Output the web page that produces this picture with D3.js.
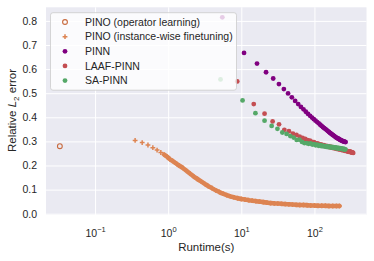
<!DOCTYPE html>
<html>
<head>
<title>Runtime vs error</title>
<style>
  body, html { margin: 0; padding: 0; background: #fff; }
  svg { display: block; font-family: "Liberation Sans", Arial, sans-serif; }
</style>
</head>
<body>
<svg id="svg" width="374" height="261"></svg>
<script src="https://d3js.org/d3.v7.min.js"></script>
<script>
// PINO (operator learning): a single run
const pinoOpTime = [0.033]
const pinoOpErr = [0.28]

// PINO (instance-wise finetuning)
const pinoFtTime = [0.353, 0.441, 0.529, 0.617, 0.705, 0.793, 0.881, 0.969, 1.057, 1.145, 1.233, 1.321, 1.41,
  1.58, 1.78, 2.0, 2.24, 2.51, 2.82, 3.16, 3.55, 3.98, 4.47, 5.01, 5.62, 6.31, 7.08, 7.94, 8.91, 10.0,
  11.2, 12.6, 14.1, 15.8, 17.8, 20.0, 22.4, 25.1, 28.2, 31.6, 35.5, 39.8, 44.7, 50.1, 56.2, 63.1, 70.8,
  79.4, 89.1, 100, 112, 126, 141, 158, 178, 200, 220]
const pinoFtErr = [0.304, 0.295, 0.285, 0.274, 0.264, 0.254, 0.245, 0.236, 0.226, 0.219, 0.212, 0.206, 0.200,
  0.190, 0.178, 0.166, 0.154, 0.144, 0.134, 0.124, 0.114, 0.106, 0.097, 0.090, 0.083, 0.077, 0.072, 0.068, 0.064, 0.061,
  0.059, 0.056, 0.054, 0.052, 0.050, 0.048, 0.046, 0.044, 0.043, 0.042, 0.041, 0.040, 0.039, 0.038, 0.037, 0.036, 0.036,
  0.035, 0.034, 0.034, 0.033, 0.033, 0.033, 0.032, 0.032, 0.032, 0.032]

// PINN
const pinnTime = [5.5, 10.9, 16.4, 21.8, 27.3, 32.7, 38.2, 43.6, 49.1, 54.5, 60.0, 65.4, 70.9, 76.3, 81.8,
  87.2, 92.7, 98.1, 103.6, 109.0, 114.5, 119.9, 125.4, 130.8, 136.3, 141.7, 147.2, 152.6, 158.1, 163.5,
  169.0, 174.4, 179.9, 185.3, 190.8, 196.2, 201.7, 207.1, 212.6, 218.0, 223.5, 228.9, 234.4, 239.8, 245.3,
  250.7, 256.2, 261.6, 267.1]
const pinnErr = [0.815, 0.667, 0.623, 0.587, 0.561, 0.538, 0.517, 0.499, 0.483, 0.468, 0.455, 0.443, 0.433, 0.423, 0.414,
  0.406, 0.399, 0.392, 0.386, 0.380, 0.375, 0.369, 0.364, 0.359, 0.355, 0.351, 0.347, 0.343, 0.339, 0.335,
  0.332, 0.329, 0.326, 0.323, 0.320, 0.317, 0.315, 0.313, 0.311, 0.309, 0.307, 0.305, 0.304, 0.302, 0.301,
  0.300, 0.299, 0.298, 0.297]

// LAAF-PINN
const laafTime = [8.8, 14.8, 20.8, 26.8, 32.8, 38.8, 44.8, 50.8, 56.8, 62.8, 68.8, 74.8, 80.8, 86.8, 92.8,
  98.8, 104.8, 110.8, 116.8, 122.8, 128.8, 134.8, 140.8, 146.8, 152.8, 158.8, 164.8, 170.8, 176.8, 182.8,
  188.8, 194.8, 200.8, 206.8, 212.8, 218.8, 224.8, 230.8, 236.8, 242.8, 248.8, 254.8, 260.8, 266.8, 272.8,
  278.8, 284.8, 290.8, 296.8, 302.8, 308.8, 314.8, 320.8, 326.8, 332.8, 338.8]
const laafErr = [0.549, 0.455, 0.415, 0.383, 0.371, 0.348, 0.342, 0.332, 0.327, 0.320,
  0.314, 0.310, 0.305, 0.303, 0.298, 0.297, 0.292, 0.292, 0.287, 0.288,
  0.284, 0.284, 0.280, 0.281, 0.277, 0.279, 0.275, 0.277, 0.273, 0.275,
  0.271, 0.273, 0.269, 0.271, 0.267, 0.269, 0.266, 0.267, 0.264, 0.265,
  0.263, 0.264, 0.261, 0.262, 0.260, 0.261, 0.258, 0.259, 0.257, 0.258,
  0.256, 0.256, 0.255, 0.254, 0.253, 0.252]

// SA-PINN
const saTime = [5.2, 10.4, 15.6, 20.8, 26.0, 31.2, 36.4, 41.6, 46.8, 52.0, 57.2, 62.4, 67.6, 72.8, 78.0,
  83.2, 88.4, 93.6, 98.8, 104.0, 109.2, 114.4, 119.6, 124.8, 130.0, 135.2, 140.4, 145.6, 150.8, 156.0,
  161.2, 166.4, 171.6, 176.8, 182.0, 187.2, 192.4, 197.6, 202.8, 208.0, 213.2, 218.4, 223.6, 228.8, 234.0,
  239.2, 244.4, 249.6, 254.8, 260.0, 265.2]
const saErr = [0.557, 0.470, 0.417, 0.386, 0.364, 0.352, 0.337, 0.331, 0.322, 0.316, 0.306, 0.307, 0.298, 0.293, 0.293,
  0.290, 0.292, 0.287, 0.289, 0.284, 0.286, 0.282, 0.284, 0.280, 0.282, 0.279, 0.280, 0.277, 0.279, 0.276,
  0.278, 0.275, 0.277, 0.274, 0.276, 0.273, 0.275, 0.272, 0.274, 0.271, 0.273, 0.270, 0.272, 0.269, 0.271,
  0.268, 0.270, 0.267, 0.269, 0.266, 0.267]

const xTicks = [0.1, 1, 10, 100]
const xTickExp = ['\u22121', '0', '1', '2']
const yTicks = [0.0, 0.1, 0.2, 0.3, 0.4, 0.5, 0.6, 0.7, 0.8]

const legendLabels = ['PINO (operator learning)', 'PINO (instance-wise finetuning)', 'PINN', 'LAAF-PINN', 'SA-PINN']

const orange = '#DD8452'
const purple = '#800080'
const red = '#C44E52'
const green = '#55A868'
const textColor = '#262626'

const margin = { top: 7.3, right: 7.5, bottom: 46, left: 46 }
const width = 374 - margin.left - margin.right
const height = 261 - margin.top - margin.bottom

const zip = (xs, ys) => xs.map((x, i) => ({ t: x, e: ys[i] }))

const xscale = d3.scaleLog()
  .domain([0.02133, 515.5])
  .range([0, width])

const yscale = d3.scaleLinear()
  .domain([-0.0054, 0.8564])
  .range([height, 0])

const svg = d3.select('#svg')
const g = svg.append('g').attr('transform', `translate(${margin.left}, ${margin.top})`)

g.append('rect')
  .attr('width', width)
  .attr('height', height)
  .attr('fill', '#EAEAF2')

// grid + y tick labels
const leftAxis = d3.axisLeft(yscale)
  .tickValues(yTicks)
  .tickFormat(d3.format('.1f'))
  .tickSize(-width)
  .tickPadding(9)
const yAxisG = g.append('g').call(leftAxis)
yAxisG.select('.domain').remove()
yAxisG.selectAll('line').attr('stroke', '#fff').attr('stroke-width', 1)
yAxisG.selectAll('text').attr('fill', textColor).style('font-size', '10.5px')

const bottomAxis = d3.axisBottom(xscale)
  .tickValues(xTicks)
  .tickSize(-height)
  .tickPadding(12)
const xAxisG = g.append('g').attr('transform', `translate(0, ${height})`).call(bottomAxis)
xAxisG.select('.domain').remove()
xAxisG.selectAll('line').attr('stroke', '#fff').attr('stroke-width', 1)
xAxisG.selectAll('text')
  .attr('fill', textColor)
  .style('font-size', '10.5px')
  .attr('y', 22)
  .attr('dy', 0)
  .text('')
  .each(function (d, i) {
    const t = d3.select(this)
    t.append('tspan').text('10')
    t.append('tspan').attr('dy', -5).style('font-size', '7.5px').text(xTickExp[i])
  })

// PINO operator learning
g.append('g').selectAll('circle')
  .data(zip(pinoOpTime, pinoOpErr))
  .enter().append('circle')
  .attr('cx', d => xscale(d.t))
  .attr('cy', d => yscale(d.e))
  .attr('r', 2.4)
  .attr('fill', 'none')
  .attr('stroke', '#C86A3E')
  .attr('stroke-width', 1.1)

// PINO instance-wise finetuning: dense markers drawn as a thick band
const ftData = zip(pinoFtTime, pinoFtErr)
const line = d3.line().x(d => xscale(d.t)).y(d => yscale(d.e)).curve(d3.curveMonotoneX)
g.append('path')
  .datum(ftData.filter(d => d.t >= 0.88))
  .attr('d', line)
  .attr('fill', 'none')
  .attr('stroke', orange)
  .attr('stroke-width', 4.6)
  .attr('stroke-linecap', 'round')
const plus = 'M-2.4,0H2.4M0,-2.4V2.4'
g.append('g').selectAll('path')
  .data(ftData)
  .enter().append('path')
  .attr('d', plus)
  .attr('transform', d => `translate(${xscale(d.t)}, ${yscale(d.e)})`)
  .attr('stroke', orange)
  .attr('stroke-width', 1.5)

function dots(times, errs, color) {
  g.append('g').selectAll('circle')
    .data(zip(times, errs))
    .enter().append('circle')
    .attr('cx', d => xscale(d.t))
    .attr('cy', d => yscale(d.e))
    .attr('r', 2.4)
    .attr('fill', color)
}
dots(pinnTime, pinnErr, purple)
dots(laafTime, laafErr, red)
dots(saTime, saErr, green)

// axis labels
svg.append('text')
  .attr('x', margin.left + width / 2)
  .attr('y', 250.7)
  .attr('text-anchor', 'middle')
  .attr('fill', textColor)
  .style('font-size', '11.5px')
  .text('Runtime(s)')

const ylab = svg.append('text')
  .attr('transform', 'translate(16.3, 110.5) rotate(-90)')
  .attr('text-anchor', 'middle')
  .attr('fill', textColor)
  .style('font-size', '11.5px')
ylab.append('tspan').text('Relative ')
ylab.append('tspan').style('font-style', 'italic').text('L')
ylab.append('tspan').attr('dy', 2.5).style('font-size', '8px').text('2')
ylab.append('tspan').attr('dy', -2.5).text(' error')

// legend
const lg = svg.append('g')
lg.append('rect')
  .attr('x', 50.5).attr('y', 12.7)
  .attr('width', 186).attr('height', 77.5)
  .attr('rx', 2.5)
  .attr('fill', 'rgba(255,255,255,0.8)')
  .attr('stroke', 'rgba(204,204,204,0.8)')
  .attr('stroke-width', 1)

const rowY = i => 22 + i * 14.65
lg.append('circle').attr('cx', 65).attr('cy', rowY(0)).attr('r', 2.4)
  .attr('fill', 'none').attr('stroke', '#C86A3E').attr('stroke-width', 1.1)
lg.append('path').attr('d', plus).attr('transform', `translate(65, ${rowY(1)})`)
  .attr('stroke', orange).attr('stroke-width', 1.5)
;[purple, red, green].forEach((c, i) => {
  lg.append('circle').attr('cx', 65).attr('cy', rowY(i + 2)).attr('r', 2.4).attr('fill', c)
})
lg.selectAll('text.lab')
  .data(legendLabels)
  .enter().append('text')
  .attr('class', 'lab')
  .attr('x', 85)
  .attr('y', (d, i) => rowY(i))
  .attr('dy', '0.36em')
  .attr('fill', textColor)
  .style('font-size', '10.5px')
  .text(d => d)
</script>
</body>
</html>
